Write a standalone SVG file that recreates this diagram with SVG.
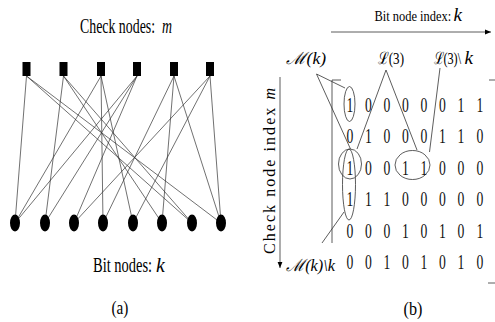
<svg xmlns="http://www.w3.org/2000/svg" width="495" height="322" viewBox="0 0 495 322">
<style>
.t{font-family:"Liberation Serif","Times New Roman","DejaVu Serif",serif;fill:#000}
.it{font-style:italic}
.d{font-family:"Liberation Serif","Times New Roman",serif;font-size:21px;text-anchor:middle;fill:#111}
.e{stroke:#333;stroke-width:0.7;fill:none}
.ln{stroke:#333;stroke-width:0.8;fill:none}
.ov{stroke:#333;stroke-width:0.8;fill:none}
.chk{fill:#000}
.bit{fill:#000}
</style>
<defs>
<marker id="ah" viewBox="0 0 10 10" refX="10" refY="5" markerWidth="6" markerHeight="6" markerUnits="userSpaceOnUse" orient="auto">
<path d="M0,1 L10,5 L0,9 z" fill="#000"/>
</marker>
</defs>

<!-- Panel (a) labels -->
<text class="t" transform="translate(80,33) scale(0.66,1)" font-size="21">Check nodes:</text>
<text class="t it" transform="translate(162,33) scale(0.66,1)" font-size="21">m</text>
<text class="t" transform="translate(93,272) scale(0.69,1)" font-size="21">Bit nodes:</text>
<text class="t it" transform="translate(156,272) scale(0.9,1)" font-size="22">k</text>
<text class="t" transform="translate(111.5,313.5) scale(0.8,1)" font-size="19">(a)</text>

<!-- Panel (a) edges -->
<g id="edges" class="e">
<line x1="26.5" y1="76" x2="15" y2="223"/>
<line x1="26.5" y1="76" x2="192" y2="223"/>
<line x1="26.5" y1="76" x2="221" y2="223"/>
<line x1="63.5" y1="76" x2="45" y2="223"/>
<line x1="63.5" y1="76" x2="162" y2="223"/>
<line x1="63.5" y1="76" x2="192" y2="223"/>
<line x1="101" y1="76" x2="15" y2="223"/>
<line x1="101" y1="76" x2="103" y2="223"/>
<line x1="101" y1="76" x2="133" y2="223"/>
<line x1="137" y1="76" x2="15" y2="223"/>
<line x1="137" y1="76" x2="45" y2="223"/>
<line x1="137" y1="76" x2="74" y2="223"/>
<line x1="174" y1="76" x2="103" y2="223"/>
<line x1="174" y1="76" x2="162" y2="223"/>
<line x1="174" y1="76" x2="221" y2="223"/>
<line x1="210" y1="76" x2="74" y2="223"/>
<line x1="210" y1="76" x2="133" y2="223"/>
<line x1="210" y1="76" x2="221" y2="223"/>
</g>

<!-- Check nodes -->
<g id="c1"><rect class="chk" x="22.5" y="62" width="8" height="14"/></g>
<g id="c2"><rect class="chk" x="59.5" y="62" width="8" height="14"/></g>
<g id="c3"><rect class="chk" x="97" y="62" width="8" height="14"/></g>
<g id="c4"><rect class="chk" x="133" y="62" width="8" height="14"/></g>
<g id="c5"><rect class="chk" x="170" y="62" width="8" height="14"/></g>
<g id="c6"><rect class="chk" x="206" y="62" width="8" height="14"/></g>

<!-- Bit nodes -->
<g id="b1"><ellipse class="bit" cx="15" cy="223" rx="5" ry="8.5"/></g>
<g id="b2"><ellipse class="bit" cx="45" cy="223" rx="5" ry="8.5"/></g>
<g id="b3"><ellipse class="bit" cx="74" cy="223" rx="5" ry="8.5"/></g>
<g id="b4"><ellipse class="bit" cx="103" cy="223" rx="5" ry="8.5"/></g>
<g id="b5"><ellipse class="bit" cx="133" cy="223" rx="5" ry="8.5"/></g>
<g id="b6"><ellipse class="bit" cx="162" cy="223" rx="5" ry="8.5"/></g>
<g id="b7"><ellipse class="bit" cx="192" cy="223" rx="5" ry="8.5"/></g>
<g id="b8"><ellipse class="bit" cx="221" cy="223" rx="5" ry="8.5"/></g>

<!-- Panel (b) -->
<text class="t" transform="translate(374.5,21) scale(0.83,1)" font-size="15">Bit node index:</text>
<text class="t it" transform="translate(453.5,21)" font-size="19">k</text>
<text class="t" transform="translate(275,254) rotate(-90)" x="0" y="0" font-size="16" textLength="166" lengthAdjust="spacing">Check node index <tspan class="it">m</tspan></text>

<g id="axes" class="ln">
<line x1="331" y1="32" x2="491" y2="32" marker-end="url(#ah)"/>
<line x1="280" y1="77" x2="280" y2="268" marker-end="url(#ah)"/>
</g>

<g id="brackets" class="ln">
<polyline points="341,80 332,80 332,243"/>
<line x1="489" y1="80" x2="495" y2="80"/>
<line x1="488" y1="283" x2="495" y2="283"/>
</g>

<g id="labels">
<text class="t it" x="286" y="64" font-size="17" textLength="40" lengthAdjust="spacingAndGlyphs">ℳ(k)</text>
<text class="t" x="378" y="64" font-size="17" textLength="26" lengthAdjust="spacingAndGlyphs">ℒ(3)</text>
<text class="t" transform="translate(433.5,64) scale(0.72,1)" font-size="17">ℒ(3)\</text>
<text class="t it" transform="translate(464.5,64)" font-size="19">k</text>
<text class="t it" x="286" y="271" font-size="17" textLength="49" lengthAdjust="spacingAndGlyphs">ℳ(k)\k</text>
</g>

<g id="pointers" class="ln">
<line x1="316.5" y1="74" x2="345" y2="88"/>
<line x1="316.5" y1="74" x2="350.5" y2="149"/>
<line x1="386" y1="70" x2="357" y2="149"/>
<line x1="386" y1="70" x2="417" y2="150"/>
<line x1="440" y1="68" x2="429.5" y2="152"/>
<line x1="322" y1="243" x2="344" y2="212"/>
</g>

<g id="ovals" class="ov">
<ellipse cx="349.5" cy="104" rx="5.5" ry="17.5"/>
<ellipse cx="350" cy="164" rx="11.5" ry="15"/>
<ellipse cx="349" cy="184.5" rx="6.5" ry="35.5"/>
<ellipse cx="412.5" cy="165" rx="17.5" ry="14.5"/>
</g>

<g id="matrix" transform="scale(0.65,1)">
<text class="d" x="538.5" y="112">1</text><text class="d" x="566.9" y="112">0</text><text class="d" x="595.4" y="112">0</text><text class="d" x="623.8" y="112">0</text><text class="d" x="652.3" y="112">0</text><text class="d" x="680.8" y="112">0</text><text class="d" x="709.2" y="112">1</text><text class="d" x="738.5" y="112">1</text>
<text class="d" x="538.5" y="143.5">0</text><text class="d" x="566.9" y="143.5">1</text><text class="d" x="595.4" y="143.5">0</text><text class="d" x="623.8" y="143.5">0</text><text class="d" x="652.3" y="143.5">0</text><text class="d" x="680.8" y="143.5">1</text><text class="d" x="709.2" y="143.5">1</text><text class="d" x="738.5" y="143.5">0</text>
<text class="d" x="538.5" y="175">1</text><text class="d" x="566.9" y="175">0</text><text class="d" x="595.4" y="175">0</text><text class="d" x="623.8" y="175">1</text><text class="d" x="652.3" y="175">1</text><text class="d" x="680.8" y="175">0</text><text class="d" x="709.2" y="175">0</text><text class="d" x="738.5" y="175">0</text>
<text class="d" x="538.5" y="206.5">1</text><text class="d" x="566.9" y="206.5">1</text><text class="d" x="595.4" y="206.5">1</text><text class="d" x="623.8" y="206.5">0</text><text class="d" x="652.3" y="206.5">0</text><text class="d" x="680.8" y="206.5">0</text><text class="d" x="709.2" y="206.5">0</text><text class="d" x="738.5" y="206.5">0</text>
<text class="d" x="538.5" y="238">0</text><text class="d" x="566.9" y="238">0</text><text class="d" x="595.4" y="238">0</text><text class="d" x="623.8" y="238">1</text><text class="d" x="652.3" y="238">0</text><text class="d" x="680.8" y="238">1</text><text class="d" x="709.2" y="238">0</text><text class="d" x="738.5" y="238">1</text>
<text class="d" x="538.5" y="269.5">0</text><text class="d" x="566.9" y="269.5">0</text><text class="d" x="595.4" y="269.5">1</text><text class="d" x="623.8" y="269.5">0</text><text class="d" x="652.3" y="269.5">1</text><text class="d" x="680.8" y="269.5">0</text><text class="d" x="709.2" y="269.5">1</text><text class="d" x="738.5" y="269.5">0</text>
</g>

<text class="t" transform="translate(403.5,315) scale(0.85,1)" font-size="19">(b)</text>
</svg>
